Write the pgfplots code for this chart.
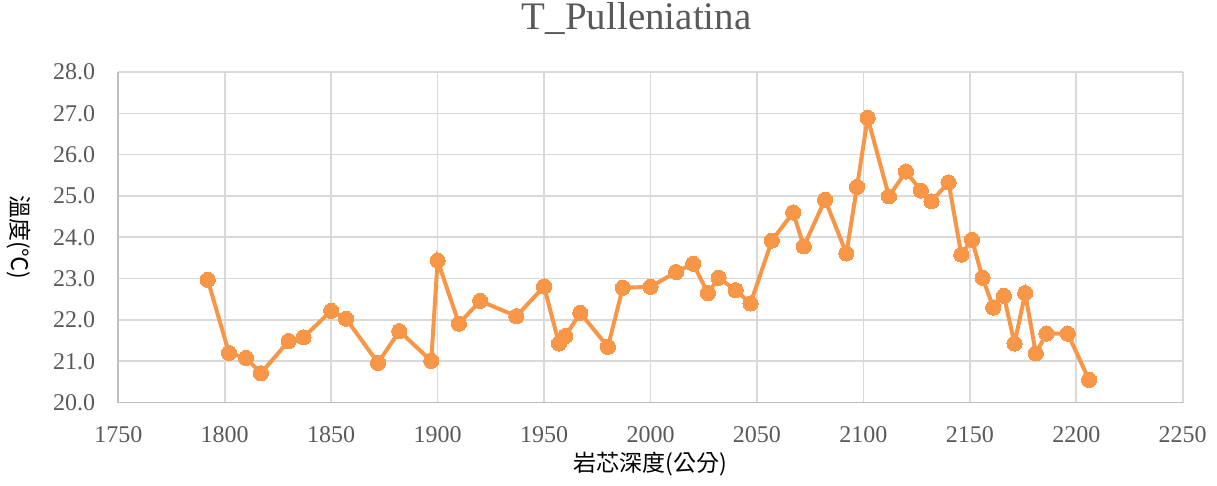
\documentclass[border=0pt]{standalone}
\usepackage{fontspec}
\setmainfont{Liberation Serif}
\newfontfamily\cjk{Noto Sans CJK TC}
\usepackage{pgfplots}
\pgfplotsset{compat=1.18}

\definecolor{lineorange}{HTML}{F79646}
\definecolor{gridgray}{HTML}{D9D9D9}
\definecolor{axisgray}{HTML}{BFBFBF}
\definecolor{textgray}{HTML}{595959}

\begin{document}
\begin{tikzpicture}
\begin{axis}[
  scale only axis,
  width=532.2pt, height=165.3pt,
  xmin=1750, xmax=2250,
  ymin=20, ymax=28,
  xtick={1750,1800,...,2250},
  ytick={20,21,...,28},
  /pgf/number format/assume math mode=true,
  x tick label style={/pgf/number format/1000 sep={}, yshift=-8.5pt},
  y tick label style={/pgf/number format/.cd, fixed, fixed zerofill, precision=1, /tikz/.cd, xshift=-8pt},
  tick label style={font=\fontsize{12}{14}\selectfont, text=textgray},
  major tick length=0pt,
  axis x line*=bottom, axis y line*=left,
  axis line style={axisgray, line width=0.8pt, -},
  grid=major,
  grid style={gridgray, line width=0.8pt},
  title={T\_Pulleniatina},
  title style={at={(rel axis cs:0.487,1)}, anchor=base, yshift=15pt,
    font=\fontsize{19.5}{22}\selectfont, text=textgray},
  xlabel={\cjk 岩芯深度(公分)},
  xlabel style={at={(rel axis cs:0.5,0)}, anchor=center, yshift=-30.5pt,
    font=\fontsize{11.5}{13}\selectfont, text=black},
  ylabel={\cjk 溫度(℃)},
  every axis y label/.style={at={(rel axis cs:0,0.5)}, xshift=-49.9pt,
    rotate=-90, anchor=center, font=\fontsize{11.5}{13}\selectfont, text=black},
]
\addplot[color=lineorange, line width=2pt, mark=*, mark size=3.8pt,
  mark options={fill=lineorange, draw=lineorange, line width=0pt}] coordinates {
  (1792,22.97) (1802,21.20) (1810,21.08) (1817,20.71) (1830,21.49)
  (1837,21.58) (1850,22.22) (1857,22.03) (1872,20.96) (1882,21.73)
  (1897,21.01) (1900,23.44) (1910,21.91) (1920,22.46) (1937,22.09)
  (1950,22.81) (1957,21.43) (1960,21.61) (1967,22.17) (1980,21.35)
  (1987,22.78) (2000,22.80) (2012,23.16) (2020,23.36) (2027,22.65)
  (2032,23.02) (2040,22.72) (2047,22.40) (2057,23.92) (2067,24.60)
  (2072,23.78) (2082,24.91) (2092,23.61) (2097,25.22) (2102,26.89)
  (2112,24.99) (2120,25.59) (2127,25.13) (2132,24.87) (2140,25.33)
  (2146,23.58) (2151,23.94) (2156,23.02) (2161,22.30) (2166,22.58)
  (2171,21.43) (2176,22.65) (2181,21.19) (2186,21.67) (2196,21.67)
  (2206,20.55)
};
\end{axis}
\pgfresetboundingbox
\path (current axis.south west) ++(-59.15pt,-41.65pt) coordinate (bbsw);
\path (current axis.north east) ++(17.15pt,36pt) coordinate (bbne);
\useasboundingbox (bbsw) rectangle (bbne);
\end{tikzpicture}
\end{document}
